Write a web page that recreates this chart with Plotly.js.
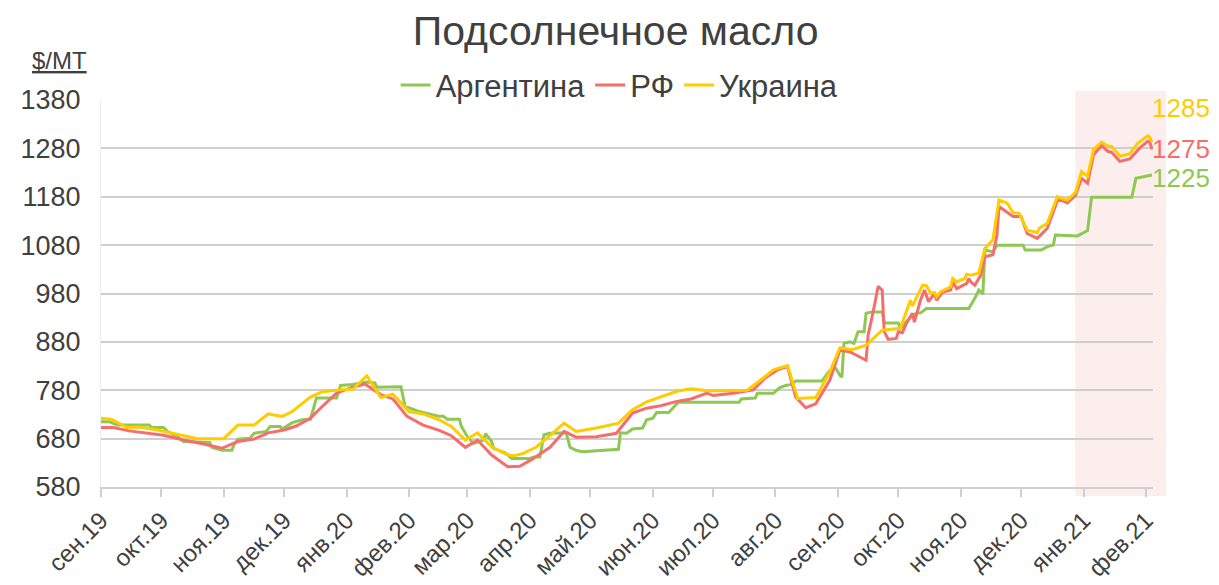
<!DOCTYPE html>
<html>
<head>
<meta charset="utf-8">
<script src="https://cdn.plot.ly/plotly-3.0.1.min.js"></script>
<style>html,body{margin:0;padding:0;background:#fff;}#chart{width:1219px;height:585px;}</style>
</head>
<body>
<div id="chart"></div>
<script>
// ---- data ----
const seriesNames = ["Аргентина", "РФ", "Украина"];
const lastLabels = ["1225", "1275", "1285"];

const argDates = ["2019-09-01","2019-09-05","2019-09-09","2019-09-25","2019-09-26","2019-10-02","2019-10-04","2019-10-10","2019-10-12","2019-10-25","2019-10-26","2019-10-31","2019-11-05","2019-11-06","2019-11-08","2019-11-14","2019-11-16","2019-11-22","2019-11-24","2019-11-29","2019-11-30","2019-12-05","2019-12-10","2019-12-14","2019-12-17","2019-12-27","2019-12-29","2020-01-04","2020-01-11","2020-01-15","2020-01-16","2020-01-28","2020-01-30","2020-02-06","2020-02-09","2020-02-16","2020-02-18","2020-02-20","2020-02-26","2020-02-27","2020-03-01","2020-03-04","2020-03-09","2020-03-10","2020-03-13","2020-03-14","2020-03-20","2020-03-23","2020-04-01","2020-04-03","2020-04-06","2020-04-08","2020-04-11","2020-04-19","2020-04-21","2020-04-24","2020-04-27","2020-05-11","2020-05-15","2020-05-16","2020-05-19","2020-05-22","2020-05-27","2020-05-29","2020-06-01","2020-06-03","2020-06-09","2020-06-13","2020-06-14","2020-07-14","2020-07-15","2020-07-22","2020-07-23","2020-07-31","2020-08-03","2020-08-06","2020-08-09","2020-08-11","2020-08-24","2020-08-28","2020-08-31","2020-09-02","2020-09-03","2020-09-04","2020-09-07","2020-09-09","2020-09-11","2020-09-14","2020-09-15","2020-09-18","2020-09-23","2020-09-24","2020-10-01","2020-10-02","2020-10-05","2020-10-08","2020-10-10","2020-10-12","2020-10-15","2020-11-05","2020-11-08","2020-11-10","2020-11-12","2020-11-13","2020-11-17","2020-11-19","2020-12-02","2020-12-03","2020-12-11","2020-12-14","2020-12-17","2020-12-18","2020-12-29","2021-01-03","2021-01-05","2021-01-25","2021-01-27","2021-01-31","2021-02-04"];
const argVals = [715,715,708,708,703,703,695,681,674,672,662,656,656,667,679,681,691,695,705,705,700,713,719,720,764,764,790,792,797,795,786,787,747,736,733,726,726,720,720,705,684,670,677,690,674,660,650,639,639,642,642,688,691,692,662,656,653,658,658,692,691,700,702,719,722,734,734,752,755,755,762,764,774,774,785,790,792,799,799,821,825,811,807,877,880,877,901,901,939,942,942,919,919,908,921,935,939,940,949,949,970,987,979,1070,1066,1080,1080,1070,1070,1077,1080,1101,1099,1110,1179,1179,1218,1221,1225];

const rfDates = ["2019-09-01","2019-09-07","2019-09-15","2019-09-24","2019-10-02","2019-10-12","2019-10-22","2019-10-31","2019-11-08","2019-11-16","2019-11-23","2019-12-01","2019-12-07","2019-12-14","2019-12-20","2019-12-27","2020-01-03","2020-01-10","2020-01-18","2020-01-24","2020-01-31","2020-02-08","2020-02-16","2020-02-22","2020-02-29","2020-03-06","2020-03-13","2020-03-21","2020-03-27","2020-04-02","2020-04-11","2020-04-18","2020-04-24","2020-05-04","2020-05-14","2020-05-22","2020-05-29","2020-06-05","2020-06-13","2020-06-20","2020-06-28","2020-07-01","2020-07-11","2020-07-21","2020-07-27","2020-08-02","2020-08-07","2020-08-11","2020-08-16","2020-08-21","2020-08-28","2020-09-02","2020-09-07","2020-09-15","2020-09-16","2020-09-19","2020-09-21","2020-09-23","2020-09-24","2020-09-26","2020-09-30","2020-10-01","2020-10-03","2020-10-05","2020-10-08","2020-10-09","2020-10-12","2020-10-14","2020-10-16","2020-10-19","2020-10-20","2020-10-23","2020-10-27","2020-10-28","2020-10-30","2020-11-04","2020-11-05","2020-11-06","2020-11-08","2020-11-11","2020-11-13","2020-11-17","2020-11-19","2020-11-20","2020-11-27","2020-12-01","2020-12-04","2020-12-09","2020-12-14","2020-12-19","2020-12-21","2020-12-24","2020-12-28","2020-12-31","2021-01-03","2021-01-06","2021-01-10","2021-01-13","2021-01-15","2021-01-19","2021-01-24","2021-01-29","2021-02-02","2021-02-03","2021-02-04"];
const rfVals = [703,703,696,691,687,677,669,660,674,679,692,698,706,722,747,774,785,793,771,762,726,708,697,686,662,677,646,622,623,637,662,695,683,684,691,733,743,748,757,762,774,769,774,781,806,822,829,766,744,752,801,863,859,842,894,952,995,987,901,885,887,901,899,918,939,921,966,987,963,980,966,983,987,1004,990,1001,1011,1004,997,1018,1056,1060,1101,1160,1139,1139,1104,1094,1115,1172,1173,1167,1183,1218,1208,1267,1286,1274,1272,1253,1258,1281,1295,1292,1278];

const uaDates = ["2019-09-01","2019-09-06","2019-09-14","2019-09-20","2019-09-29","2019-10-07","2019-10-19","2019-11-01","2019-11-08","2019-11-16","2019-11-23","2019-11-30","2019-12-05","2019-12-14","2019-12-20","2019-12-29","2020-01-04","2020-01-11","2020-01-18","2020-01-24","2020-02-01","2020-02-08","2020-02-16","2020-02-22","2020-02-29","2020-03-06","2020-03-13","2020-03-20","2020-03-24","2020-03-29","2020-04-04","2020-04-11","2020-04-18","2020-04-24","2020-05-04","2020-05-15","2020-05-22","2020-05-29","2020-06-05","2020-06-13","2020-06-20","2020-06-28","2020-07-04","2020-07-18","2020-07-24","2020-07-31","2020-08-07","2020-08-12","2020-08-21","2020-08-28","2020-09-02","2020-09-08","2020-09-15","2020-09-23","2020-10-02","2020-10-07","2020-10-08","2020-10-13","2020-10-15","2020-10-17","2020-10-19","2020-10-20","2020-10-22","2020-10-27","2020-10-28","2020-10-30","2020-11-03","2020-11-04","2020-11-06","2020-11-10","2020-11-11","2020-11-13","2020-11-17","2020-11-20","2020-11-24","2020-11-27","2020-11-30","2020-12-04","2020-12-09","2020-12-10","2020-12-14","2020-12-19","2020-12-22","2020-12-24","2020-12-28","2020-12-31","2021-01-03","2021-01-06","2021-01-10","2021-01-13","2021-01-15","2021-01-19","2021-01-24","2021-01-28","2021-02-02","2021-02-03","2021-02-04"];
const uaVals = [722,720,703,704,698,691,680,680,708,708,731,726,736,766,777,781,782,810,765,772,736,731,719,705,677,692,663,648,644,650,662,686,712,695,702,712,740,756,766,778,783,779,779,780,799,822,831,763,765,818,868,864,873,904,908,966,954,997,996,981,982,973,984,994,1011,1004,1011,1020,1018,1022,1039,1073,1091,1173,1167,1147,1146,1111,1106,1115,1125,1180,1175,1173,1189,1232,1222,1278,1293,1285,1284,1264,1269,1291,1306,1302,1293];

const tickDates = ["2019-09-01","2019-10-01","2019-11-01","2019-12-01","2020-01-01","2020-02-01","2020-03-01","2020-04-01","2020-05-01","2020-06-01","2020-07-01","2020-08-01","2020-09-01","2020-10-01","2020-11-01","2020-12-01","2021-01-01","2021-02-01"];
const tickLabels = ["сен.19","окт.19","ноя.19","дек.19","янв.20","фев.20","мар.20","апр.20","май.20","июн.20","июл.20","авг.20","сен.20","окт.20","ноя.20","дек.20","янв.21","фев.21"];

// ---- styling ----
const colors = ["#8DC853", "#F76D6D", "#FFCC00"];
const FONT = "Liberation Sans, Arial, Helvetica, sans-serif";
const TXT = "#404040";

const xs = [argDates, rfDates, uaDates];
const ys = [argVals, rfVals, uaVals];
const traces = seriesNames.map((n, i) => ({
  type: "scatter", mode: "lines", name: n,
  x: xs[i], y: ys[i],
  line: {color: colors[i], width: 3},
  hoverinfo: "x+y+name"
}));

const layout = {
  width: 1219, height: 585,
  margin: {l: 101, r: 66, t: 100, b: 98},
  paper_bgcolor: "#fff", plot_bgcolor: "rgba(0,0,0,0)",
  font: {family: FONT, color: TXT},
  title: {text: "Подсолнечное масло", font: {size: 41, color: TXT, family: FONT},
          x: 0.505, xanchor: "center", y: 0.948, yanchor: "middle"},
  showlegend: true,
  legend: {orientation: "h", x: 0.493, xanchor: "center", y: 1.038, yanchor: "middle",
           font: {size: 31, color: TXT}, bgcolor: "rgba(0,0,0,0)", traceorder: "normal"},
  xaxis: {type: "date", range: ["2019-09-01", "2021-02-04 12:00"],
          tickmode: "array", tickvals: tickDates, ticktext: tickLabels,
          tickangle: -45, tickfont: {size: 24, color: TXT},
          showgrid: false, zeroline: false,
          showline: true, linecolor: "#d0d0d0", linewidth: 1.5,
          ticks: "outside", ticklen: 8, tickcolor: "#d0d0d0", tickwidth: 1.5},
  yaxis: {range: [580, 1380], tickmode: "linear", tick0: 580, dtick: 100,
          tickfont: {size: 27, color: TXT}, showgrid: true, gridcolor: "#cfcfcf", gridwidth: 1.5,
          zeroline: false, showline: true, linecolor: "#ececec", linewidth: 1,
          ticks: "", ticklabelstandoff: 14},
  shapes: [{type: "rect", xref: "paper", yref: "paper", x0: 0.926, x1: 1.0124, y0: -0.023, y1: 1.023,
            fillcolor: "rgba(250,200,200,0.3)", line: {width: 0}, layer: "below"}],
  annotations: [
    {xref: "paper", yref: "paper", x: -0.039, y: 1.103, text: "<u>$/MT</u>", showarrow: false,
     font: {size: 24, color: TXT}, xanchor: "center", yanchor: "middle"},
    {xref: "paper", yref: "y", x: 1, y: 1363, text: lastLabels[2], showarrow: false,
     font: {size: 26, color: colors[2]}, xanchor: "left", yanchor: "middle", xshift: -2, borderpad: 0},
    {xref: "paper", yref: "y", x: 1, y: 1278, text: lastLabels[1], showarrow: false,
     font: {size: 26, color: colors[1]}, xanchor: "left", yanchor: "middle", xshift: -2, borderpad: 0},
    {xref: "paper", yref: "y", x: 1, y: 1219, text: lastLabels[0], showarrow: false,
     font: {size: 26, color: colors[0]}, xanchor: "left", yanchor: "middle", xshift: -2, borderpad: 0}
  ]
};

Plotly.newPlot("chart", traces, layout, {displayModeBar: false, responsive: false});
</script>
</body>
</html>
